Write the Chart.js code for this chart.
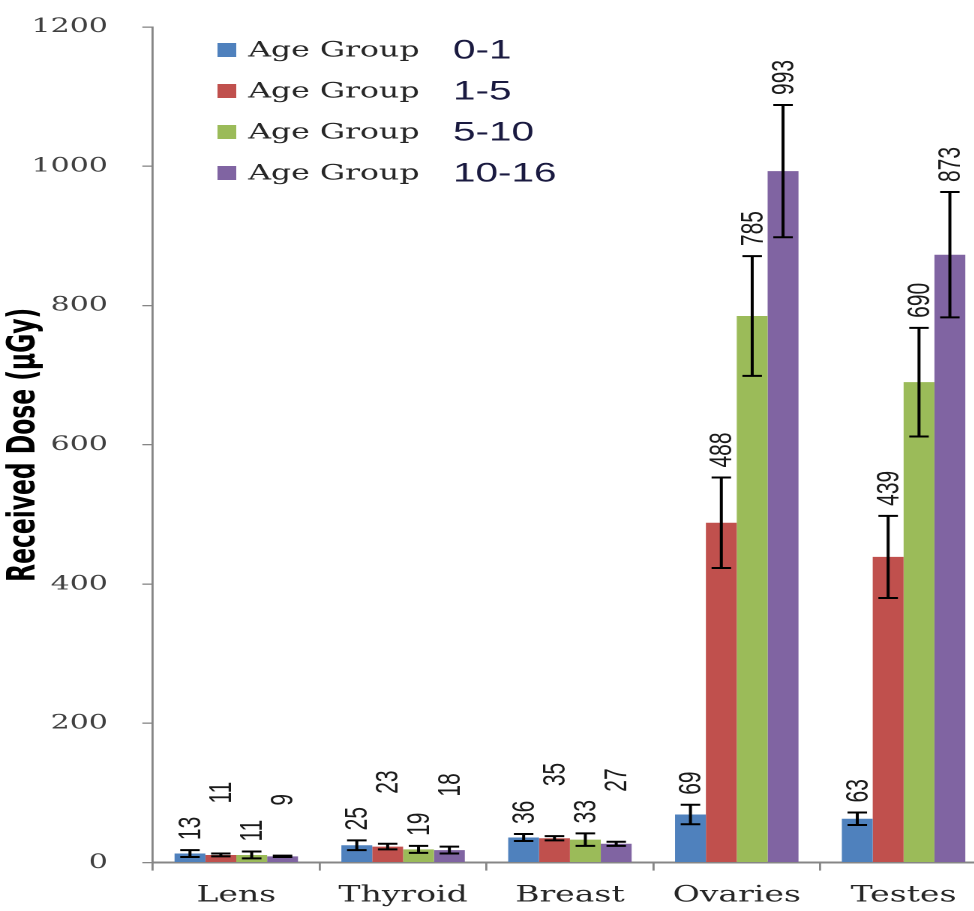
<!DOCTYPE html>
<html>
<head>
<meta charset="utf-8">
<script src="https://cdn.jsdelivr.net/npm/chart.js@4/dist/chart.umd.min.js"></script>
<style>
  html, body { margin:0; padding:0; background:#ffffff; width:974px; height:911px; overflow:hidden; }
  #wrap { width:658px; height:911px; transform:scaleX(1.5); transform-origin:0 0; }
  canvas { display:block; }
</style>
</head>
<body>
<div id="wrap"><canvas id="c" width="658" height="911" style="width:658px;height:911px"></canvas></div>
<script>
// ---- data ----
const categories = ['Lens', 'Thyroid', 'Breast', 'Ovaries', 'Testes'];
const legendPrefix = 'Age Group';
const ageGroups = ['0-1', '1-5', '5-10', '10-16'];

const dose_0_1   = [13, 25, 36, 69, 63];
const dose_1_5   = [11, 23, 35, 488, 439];
const dose_5_10  = [11, 19, 33, 785, 690];
const dose_10_16 = [9, 18, 27, 993, 873];

const err_0_1   = [5, 7, 5, 14, 9];
const err_1_5   = [2, 4, 3, 65, 59];
const err_5_10  = [5, 5, 9, 86, 78];
const err_10_16 = [1, 5, 3, 95, 90];

const yMin = 0, yMax = 1200, yStep = 200;
const yTitle = 'Received Dose (\u00B5Gy)';

const seriesValues = [dose_0_1, dose_1_5, dose_5_10, dose_10_16];
const seriesErrors = [err_0_1, err_1_5, err_5_10, err_10_16];
const seriesColors = ['#4F81BD', '#C0504D', '#9BBB59', '#8064A2'];

// ---- plugins ----
const errorLabelPlugin = {
  id: 'errorLabels',
  afterDatasetsDraw(chart, args, opts) {
    const ctx = chart.ctx;
    const y = chart.scales.y;
    chart.data.datasets.forEach((ds, di) => {
      const meta = chart.getDatasetMeta(di);
      meta.data.forEach((bar, i) => {
        const v = ds.data[i];
        const e = ds.errors[i];
        const x = bar.x;
        const yTop = y.getPixelForValue(v + e);
        const yBot = y.getPixelForValue(v - e);
        ctx.save();
        ctx.strokeStyle = '#000000';
        ctx.lineWidth = opts.lineWidth;
        ctx.beginPath();
        ctx.moveTo(x, yTop); ctx.lineTo(x, yBot);
        ctx.moveTo(x - opts.capHalf, yTop); ctx.lineTo(x + opts.capHalf, yTop);
        ctx.moveTo(x - opts.capHalf, yBot); ctx.lineTo(x + opts.capHalf, yBot);
        ctx.stroke();
        // rotated value label
        let ly = yTop - opts.gap;
        if (di % 2 === 1 && v < opts.staggerBelow) ly -= opts.stagger;
        ctx.translate(x, ly);
        ctx.rotate(-Math.PI / 2);
        ctx.fillStyle = '#1a1a1a';
        ctx.font = opts.font;
        ctx.textAlign = 'left';
        ctx.textBaseline = 'middle';
        ctx.fillText(String(v), 0, 1);
        ctx.restore();
      });
    });
  }
};

const legendPlugin = {
  id: 'ageLegend',
  afterDraw(chart, args, opts) {
    const ctx = chart.ctx;
    chart.data.datasets.forEach((ds, i) => {
      const cy = opts.top + i * opts.step;
      ctx.save();
      ctx.fillStyle = ds.backgroundColor;
      ctx.fillRect(opts.boxX, cy - opts.boxH / 2, opts.boxW, opts.boxH);
      ctx.textBaseline = 'middle';
      ctx.textAlign = 'left';
      ctx.fillStyle = '#262626';
      ctx.font = opts.prefixFont;
      ctx.fillText(legendPrefix, opts.textX, cy + 1);
      ctx.fillStyle = '#1a1a40';
      ctx.font = opts.groupFont;
      ctx.fillText(ageGroups[i], opts.groupX, cy + 1);
      ctx.restore();
    });
  }
};

const datasets = seriesValues.map((vals, i) => ({
  label: legendPrefix + ' ' + ageGroups[i],
  data: vals,
  errors: seriesErrors[i],
  backgroundColor: seriesColors[i],
  borderWidth: 0,
  categoryPercentage: 0.74,
  barPercentage: 1.0
}));

new Chart(document.getElementById('c'), {
  type: 'bar',
  data: { labels: categories, datasets },
  options: {
    responsive: false,
    animation: false,
    devicePixelRatio: 2,
    layout: { padding: { top: 27, left: 0, right: 0, bottom: -10 } },
    plugins: {
      legend: { display: false },
      tooltip: { enabled: false },
      errorLabels: { lineWidth: 2, capHalf: 6.5, gap: 10, stagger: 40, staggerBelow: 100,
                     font: '21px "Liberation Sans", Arial, sans-serif' },
      ageLegend: { top: 50, step: 41, boxX: 145, boxW: 12.5, boxH: 14, textX: 165.5, groupX: 302,
                   prefixFont: '21px "DejaVu Serif", serif',
                   groupFont: '27px "Liberation Sans", Arial, sans-serif' }
    },
    scales: {
      x: {
        offset: true,
        grid: { offset: true, drawOnChartArea: false, drawTicks: true, tickLength: 8, color: '#868686', lineWidth: 1.4 },
        border: { display: true, color: '#868686', width: 2 },
        ticks: { color: '#262626', padding: 12, maxRotation: 0, font: { family: '"DejaVu Serif", serif', size: 22 } }
      },
      y: {
        min: yMin, max: yMax,
        grid: { drawOnChartArea: false, drawTicks: true, tickLength: 26, color: '#868686', lineWidth: 1.3,
                tickBorderDash: [7, 19], tickBorderDashOffset: 7 },
        border: { display: true, color: '#868686', width: 1.4 },
        ticks: { stepSize: yStep, color: '#404040', padding: 4,
                 callback: (v) => String(v),
                 font: { family: '"DejaVu Serif", serif', size: 20 } },
        title: { display: true, text: yTitle, color: '#000000',
                 padding: { top: 3, bottom: -12 },
                 font: { family: '"Liberation Sans Narrow", "DejaVu Sans Condensed", "Liberation Sans", sans-serif', size: 26, weight: 'bold', lineHeight: 1 } }
      }
    }
  },
  plugins: [errorLabelPlugin, legendPlugin]
});
</script>
</body>
</html>
